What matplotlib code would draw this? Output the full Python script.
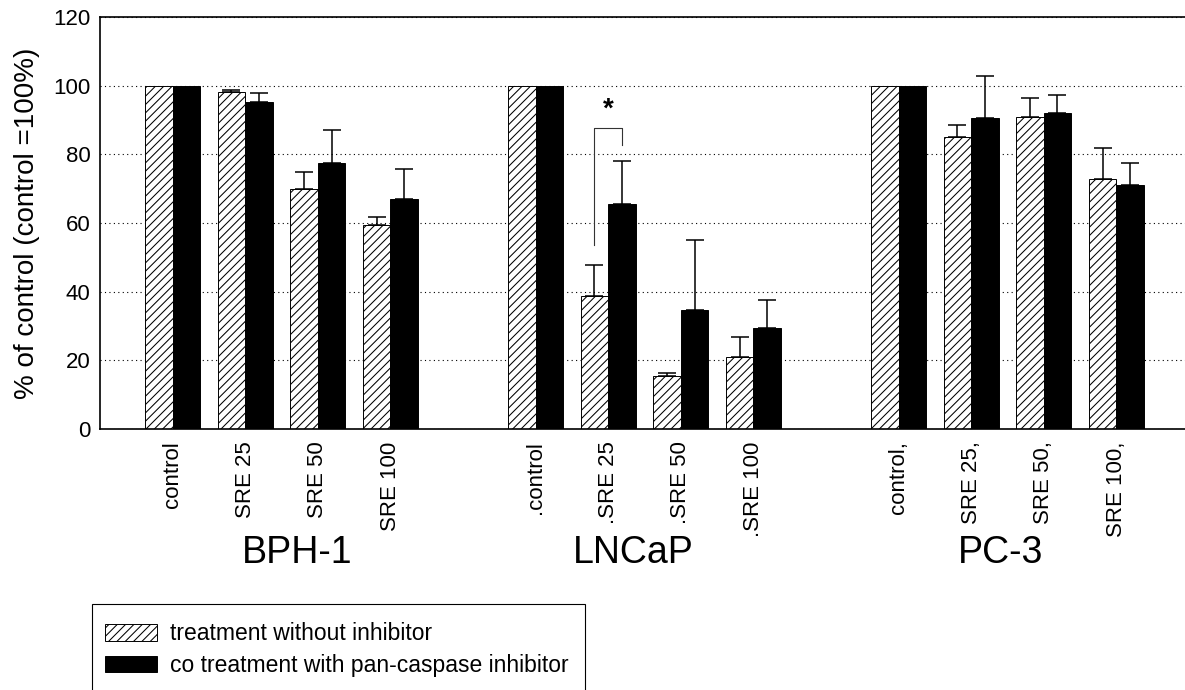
import numpy as np
import matplotlib
matplotlib.use("Agg")
import matplotlib.pyplot as plt
from matplotlib.patches import Patch, Rectangle
import matplotlib.transforms as mtransforms

plt.rcParams['font.family'] = ['Liberation Sans', 'DejaVu Sans']
plt.rcParams['hatch.linewidth'] = 0.75

# data
groups = ['BPH-1', 'LNCaP', 'PC-3']
group_label_x = [1.72, 6.34, 11.41]
tick_labels = ['control', 'SRE 25', 'SRE 50', 'SRE 100',
               '.control', '.SRE 25', '.SRE 50', '.SRE 100',
               'control,', 'SRE 25,', 'SRE 50,', 'SRE 100,']
without_inh = [100, 98.2, 69.8, 59.4, 100, 38.7, 15.4, 21.0, 100, 85.0, 91.0, 72.9]
without_err = [0, 0.5, 5.1, 2.4, 0, 9.1, 0.8, 5.8, 0, 3.6, 5.4, 9.0]
with_inh = [100, 95.2, 77.5, 67.0, 100, 65.4, 34.7, 29.3, 100, 90.7, 92.0, 71.1]
with_err = [0, 2.7, 9.5, 8.7, 0, 12.8, 20.3, 8.3, 0, 12.1, 5.2, 6.5]
legend_labels = ['treatment without inhibitor', 'co treatment with pan-caspase inhibitor']

# significance bracket (LNCaP SRE 25)
sig_slot = 5
sig_left_bottom = 53.6
sig_right_bottom = 82.7
sig_top = 87.6
sig_star_y = 93

# layout
W, H = 1185, 690
fig = plt.figure(figsize=(W / 100, H / 100), dpi=100)
ax = fig.add_axes([100 / W, 1 - 429 / H, 1 - 100 / W, (429 - 17) / H])

pos = np.concatenate([np.arange(4) + 5 * g for g in range(len(groups))]).astype(float)
bw = 0.379

b1 = ax.bar(pos - bw / 2, without_inh, bw, color='white', edgecolor='black',
            hatch='////', linewidth=0.7, zorder=2)
b2 = ax.bar(pos + bw / 2, with_inh, bw, color='black', edgecolor='black',
            linewidth=0.7, zorder=2)

for offs, vals, errs in [(-bw / 2, without_inh, without_err), (bw / 2, with_inh, with_err)]:
    vals = np.array(vals)
    errs = np.array(errs)
    m = errs > 0
    ax.errorbar(pos[m] + offs, vals[m], yerr=[np.zeros(m.sum()), errs[m]], fmt='none',
                ecolor='black', elinewidth=1.1, capsize=6.5, capthick=1.1, zorder=3)

# bracket + star
xs = pos[sig_slot]
ax.plot([xs - bw / 2, xs - bw / 2, xs + bw / 2, xs + bw / 2],
        [sig_left_bottom, sig_top, sig_top, sig_right_bottom],
        color='#333333', lw=0.8, zorder=3)
ax.text(xs, sig_star_y, '*', ha='center', va='center', fontsize=20, fontweight='bold')

ax.set_xlim(-1, 13.946)
ax.set_ylim(0, 120)
ax.set_yticks(np.arange(0, 121, 20))
ax.tick_params(axis='y', length=0, pad=7, labelsize=16)
ax.set_xticks(pos)
ax.set_xticklabels(tick_labels, rotation=90, fontsize=16)
ax.tick_params(axis='x', length=0, pad=9)

ax.yaxis.grid(True, linestyle=(0, (1, 3)), color='black', lw=0.8)
ax.set_axisbelow(True)
ax.spines['right'].set_visible(False)
for s in ['top', 'left', 'bottom']:
    ax.spines[s].set_linewidth(1.2)

ax.set_ylabel('% of control (control =100%)', fontsize=20)
ax.yaxis.set_label_coords(-0.055, 0.5)

trans = mtransforms.blended_transform_factory(ax.transData, fig.transFigure)
for gx, g in zip(group_label_x, groups):
    ax.text(gx, 1 - 563 / H, g, transform=trans, ha='center', va='baseline', fontsize=27)

# legend box runs off the bottom of the figure
fig.patches.append(Rectangle((92 / W, -0.05), (585 - 92) / W, 0.05 + 1 - 604 / H,
                             transform=fig.transFigure, facecolor='white',
                             edgecolor='black', lw=0.8, zorder=1))
handles = [Patch(facecolor='white', edgecolor='black', hatch='////', linewidth=0.7),
           Patch(facecolor='black', edgecolor='black', linewidth=0.7)]
leg = fig.legend(handles, legend_labels, loc='upper left',
                 bbox_to_anchor=(105 / W, 1 - 622.5 / H), bbox_transform=fig.transFigure,
                 borderaxespad=0, frameon=False, borderpad=0,
                 fontsize=16.5, handlelength=2.27, handleheight=0.7, handletextpad=0.55,
                 labelspacing=0.38)
leg.set_zorder(2)

fig.savefig('out.png', dpi=100)
